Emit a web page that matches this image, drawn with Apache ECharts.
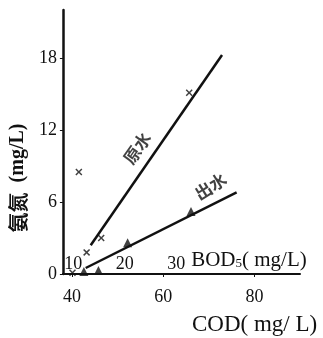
<!DOCTYPE html>
<html>
<head>
<meta charset="utf-8">
<script src="https://cdn.jsdelivr.net/npm/echarts@6/dist/echarts.min.js"></script>
<style>
  html, body { margin: 0; padding: 0; background: #fff; }
  #chart { width: 323px; height: 338px; }
</style>
</head>
<body>
<div id="chart"></div>
<script>
// COD (x) vs 氨氮 (y)
const rawPoints = [[40.1, 0.1], [43.2, 1.8], [46.4, 3.0], [41.5, 8.5], [65.7, 15.1]];
const outPoints = [[42.6, 0.2], [45.8, 0.3], [52.2, 2.6], [66.1, 5.2]];
const rawFit = [[44.1, 2.4], [72.9, 18.25]];
const outFit = [[43.0, 0.5], [76.1, 6.8]];
const rawLabelAt = [[54.3, 10.5]];
const outLabelAt = [[70.4, 7.3]];
const codTicks = [40, 60, 80];
const bodTicks = [10, 20, 30];
const nh3Ticks = [0, 6, 12, 18];

const serif = '"Liberation Serif", "DejaVu Serif", serif';
const cjk = '"Noto Sans CJK SC", sans-serif';

var myChart = echarts.init(document.getElementById('chart'));
var option;

// filled "x" marker
const crossPath = 'path://M0,1.5L1.5,0L5,3.5L8.5,0L10,1.5L6.5,5L10,8.5L8.5,10L5,6.5L1.5,10L0,8.5L3.5,5Z';

function lineLabel(data, text, angle) {
  return {
    type: 'scatter',
    data: data,
    symbolSize: 1,
    itemStyle: { color: 'transparent' },
    silent: true,
    label: {
      show: true,
      position: 'inside',
      formatter: text,
      fontFamily: cjk,
      fontSize: 17,
      fontWeight: 'bold',
      color: '#111',
      rotate: angle
    }
  };
}

option = {
  animation: false,
  backgroundColor: '#fff',
  grid: { left: 60, top: 10, right: 23, bottom: 64 },
  xAxis: [
    {
      type: 'value',
      min: 38,
      max: 90,
      name: 'COD( mg/ L)',
      nameLocation: 'end',
      nameGap: -108,
      nameTextStyle: {
        fontFamily: serif, fontSize: 23, color: '#111',
        align: 'left', verticalAlign: 'top', padding: [39, 0, 0, 0]
      },
      axisLine: { lineStyle: { color: '#111', width: 2 } },
      axisTick: { show: true, length: 3, customValues: codTicks, lineStyle: { color: '#111' } },
      axisLabel: { customValues: codTicks, fontFamily: serif, fontSize: 18, color: '#111', margin: 14 },
      splitLine: { show: false }
    },
    {
      type: 'value',
      position: 'bottom',
      offset: -20,
      min: 8,
      max: 54,
      name: '{t|BOD}{s|5}{t|( mg/L)}',
      nameLocation: 'end',
      nameGap: -110,
      nameTextStyle: {
        align: 'left', verticalAlign: 'middle', padding: [12, 0, 0, 0],
        rich: {
          t: { fontFamily: serif, fontSize: 21, color: '#111' },
          s: { fontFamily: serif, fontSize: 13, color: '#111', padding: [8, 0, 0, 0] }
        }
      },
      axisLine: { show: false },
      axisTick: { show: false },
      axisLabel: { customValues: bodTicks, fontFamily: serif, fontSize: 18, color: '#111', margin: 1 },
      splitLine: { show: false }
    }
  ],
  yAxis: {
    type: 'value',
    min: 0,
    max: 22,
    name: '{c|氨氮}   {u|(mg/L)}',
    nameLocation: 'middle',
    nameGap: 30,
    nameRotate: 90,
    nameTextStyle: {
      padding: [0, 72, 0, 0],
      rich: {
        c: { fontFamily: cjk, fontSize: 20, fontWeight: 'bold', color: '#111' },
        u: { fontFamily: serif, fontSize: 20, fontWeight: 'bold', color: '#111' }
      }
    },
    axisLine: { show: true, lineStyle: { color: '#111', width: 2.5 } },
    axisTick: { show: true, length: 3, customValues: nh3Ticks, lineStyle: { color: '#111' } },
    axisLabel: { customValues: nh3Ticks, fontFamily: serif, fontSize: 18, color: '#111', margin: 6 },
    splitLine: { show: false }
  },
  series: [
    {
      type: 'line',
      data: rawFit,
      symbol: 'none',
      lineStyle: { color: '#111', width: 2.5 }
    },
    {
      type: 'line',
      data: outFit,
      symbol: 'none',
      lineStyle: { color: '#111', width: 2.5 }
    },
    {
      type: 'scatter',
      data: rawPoints,
      symbol: crossPath,
      symbolSize: 7,
      itemStyle: { color: '#111' }
    },
    {
      type: 'scatter',
      data: outPoints,
      symbol: 'triangle',
      symbolSize: 9,
      itemStyle: { color: '#111' }
    },
    lineLabel(rawLabelAt, '原水', 55),
    lineLabel(outLabelAt, '出水', 32)
  ]
};

option && myChart.setOption(option);
</script>
</body>
</html>
